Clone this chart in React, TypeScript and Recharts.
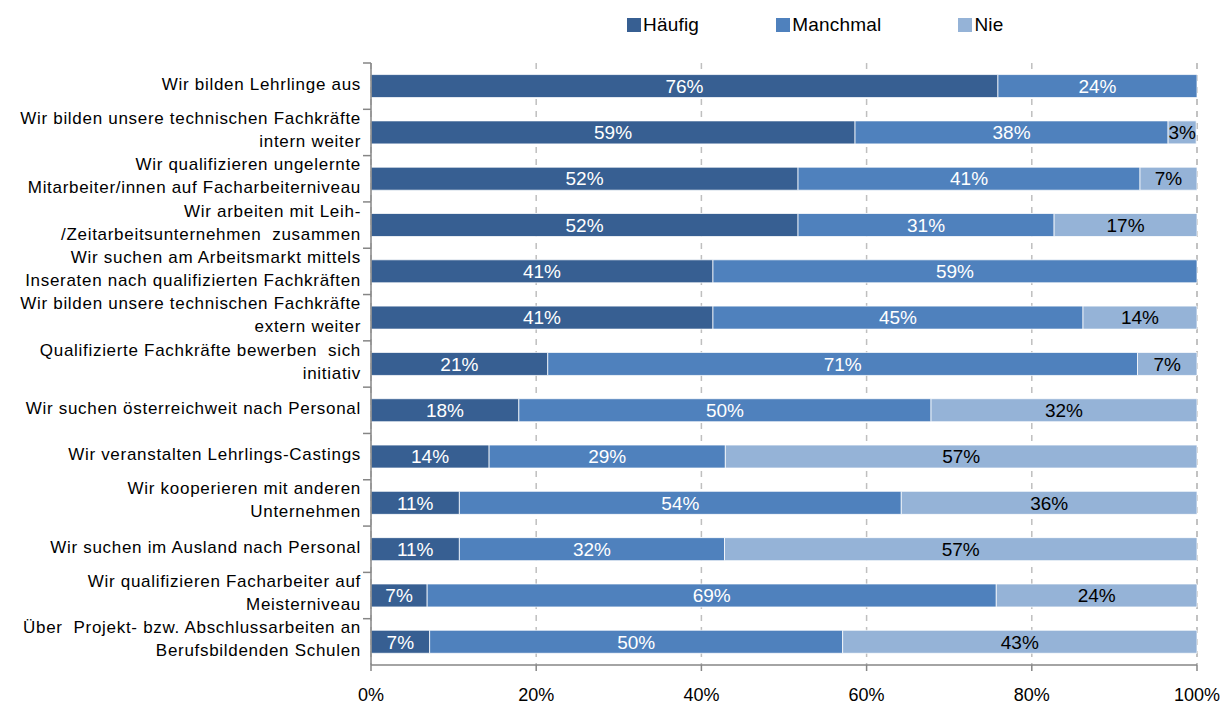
import { BarChart, Bar, XAxis, YAxis, CartesianGrid, LabelList } from 'recharts';

const categories = [
  'Wir bilden Lehrlinge aus',
  'Wir bilden unsere technischen Fachkräfte\nintern weiter',
  'Wir qualifizieren ungelernte\nMitarbeiter/innen auf Facharbeiterniveau',
  'Wir arbeiten mit Leih-\n/Zeitarbeitsunternehmen  zusammen',
  'Wir suchen am Arbeitsmarkt mittels\nInseraten nach qualifizierten Fachkräften',
  'Wir bilden unsere technischen Fachkräfte\nextern weiter',
  'Qualifizierte Fachkräfte bewerben  sich\ninitiativ',
  'Wir suchen österreichweit nach Personal',
  'Wir veranstalten Lehrlings-Castings',
  'Wir kooperieren mit anderen\nUnternehmen',
  'Wir suchen im Ausland nach Personal',
  'Wir qualifizieren Facharbeiter auf\nMeisterniveau',
  'Über  Projekt- bzw. Abschlussarbeiten an\nBerufsbildenden Schulen',
];

const haeufig = [75.9, 58.6, 51.7, 51.7, 41.4, 41.4, 21.4, 17.9, 14.3, 10.7, 10.7, 6.8, 7.1];
const manchmal = [24.1, 37.9, 41.4, 31.0, 58.6, 44.8, 71.4, 49.9, 28.6, 53.5, 32.1, 68.9, 50.0];
const nie = [0, 3.4, 6.9, 17.3, 0, 13.8, 7.2, 32.2, 57.1, 35.8, 57.2, 24.3, 42.9];

const xTicks = [0, 20, 40, 60, 80, 100];

const series = [
  { key: 'haeufig', name: 'Häufig', color: '#375f92', labelColor: '#ffffff' },
  { key: 'manchmal', name: 'Manchmal', color: '#4f81bd', labelColor: '#ffffff' },
  { key: 'nie', name: 'Nie', color: '#95b3d7', labelColor: '#000000' },
];

const data = categories.map((name, i) => ({
  name,
  haeufig: haeufig[i],
  manchmal: manchmal[i],
  nie: nie[i],
}));

const FONT = '"Liberation Sans", Arial, sans-serif';
const PLOT_TOP = 63;
const PLOT_BOTTOM = 665;
const STEP = (PLOT_BOTTOM - PLOT_TOP) / categories.length;

function CategoryTick(props: any) {
  const { x, y, payload } = props;
  const lines: string[] = String(payload.value).split('\n');
  const offsets = lines.length === 1 ? [-2] : [-14, 9];
  return (
    <g>
      <line x1={371} x2={363} y1={y - STEP / 2} y2={y - STEP / 2} stroke="#868686" strokeWidth={1.5} />
      {lines.map((l, i) => (
        <text
          key={i}
          x={x - 2}
          y={y + offsets[i]}
          textAnchor="end"
          dominantBaseline="central"
          fontSize={17}
          fill="#000"
          style={{ letterSpacing: '0.7px', whiteSpace: 'pre' }}
          fontFamily={FONT}
        >
          {l}
        </text>
      ))}
    </g>
  );
}

const fmt = (v: any) => (Number(v) > 0 ? `${Math.round(Number(v))}%` : '');

export default function App() {
  return (
    <div style={{ position: 'absolute', left: 0, top: 0, width: 1228, height: 707, background: '#fff', fontFamily: FONT }}>
      <div style={{ position: 'absolute', left: 627, top: 13, display: 'flex', alignItems: 'center', height: 24 }}>
        {series.map((s) => (
          <div key={s.key} style={{ display: 'flex', alignItems: 'center', marginRight: 77 }}>
            <div style={{ width: 14, height: 14, background: s.color, marginRight: 2 }} />
            <span style={{ fontSize: 19, color: '#000', letterSpacing: '0.2px' }}>{s.name}</span>
          </div>
        ))}
      </div>
      <BarChart
        width={1228}
        height={707}
        data={data}
        layout="vertical"
        margin={{ top: PLOT_TOP, right: 31, bottom: 12, left: 0 }}
        barCategoryGap="25%"
      >
        <CartesianGrid horizontal={false} stroke="#bfbfbf" strokeDasharray="6 6" strokeWidth={1.5} />
        <XAxis
          type="number"
          domain={[0, 100]}
          ticks={xTicks}
          tickFormatter={(v) => `${v}%`}
          height={30}
          tickSize={6}
          tickMargin={17}
          interval={0}
          axisLine={{ stroke: '#868686', strokeWidth: 1.5 }}
          tickLine={{ stroke: '#868686', strokeWidth: 1.5 }}
          tick={{ fontSize: 18, fill: '#000', fontFamily: FONT }}
        />
        <YAxis
          type="category"
          dataKey="name"
          width={371}
          interval={0}
          tickLine={false}
          axisLine={{ stroke: '#868686', strokeWidth: 1.5 }}
          tick={<CategoryTick />}
        />
        {series.map((s) => (
          <Bar
            key={s.key}
            dataKey={s.key}
            name={s.name}
            stackId="a"
            fill={s.color}
            stroke="#ffffff"
            strokeWidth={0.75}
            isAnimationActive={false}
          >
            <LabelList
              dataKey={s.key}
              position="center"
              formatter={fmt}
              fill={s.labelColor}
              fontSize={19}
              fontFamily={FONT}
            />
          </Bar>
        ))}
      </BarChart>
    </div>
  );
}
